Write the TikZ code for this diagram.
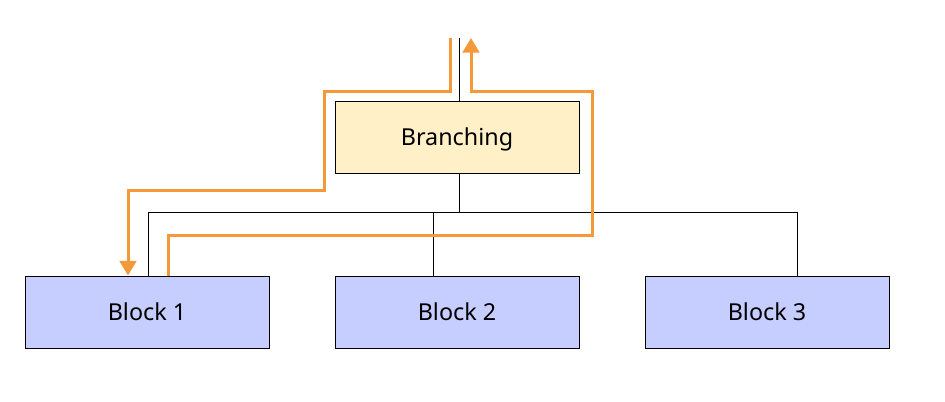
\documentclass[tikz,border=0pt]{standalone}
\usepackage{fontspec}
\setmainfont{Noto Sans}
\usetikzlibrary{arrows.meta}
\definecolor{flow}{HTML}{F4993A}
\definecolor{branchfill}{HTML}{FFF0C8}
\definecolor{blockfill}{HTML}{C5CEFF}
\tikzset{
  box/.style={draw=black,line width=0.75pt,inner sep=0pt,minimum width=183pt,minimum height=54pt,
    text height=12.5pt,text depth=0pt,font=\fontsize{17.5}{21}\selectfont},
  branchbox/.style={box,fill=branchfill},
  blockbox/.style={box,fill=blockfill},
  wire/.style={draw=black,line width=0.75pt},
  route/.style={draw=flow,line width=2.25pt,-{Triangle[length=11pt,width=12.5pt]}}
}
\begin{document}
\begin{tikzpicture}[x=0.75pt,y=-0.75pt]
            \useasboundingbox (0,0) rectangle (945,401);
            % nodes
            \node[branchbox] (branch) at (457,137) {Branching};
            \node[blockbox] (b1) at (147,312) {Block 1};
            \node[blockbox] (b2) at (457,312) {Block 2};
            \node[blockbox] (b3) at (767,312) {Block 3};
            \coordinate (in) at (459,38);
            \coordinate (down) at (450,38);
            \coordinate (up) at (471,38);
            % tree wires
            \draw[wire] (in) -- (in |- branch.north);
            \draw[wire] (in |- branch.south) -- (459,212);
            \draw[wire] (b1.north -| 148,0) |- (797,212) -- (b3.north -| 797,0);
            \draw[wire] (433,212) -- (b2.north -| 433,0);
            % orange routes
            \draw[route] (down) |- (324,91) |- (128,190) -- (b1.north -| 128,0);
            \draw[route] (b1.north -| 168,0) |- (592,235) |- (471,91) -- (up);
         \end{tikzpicture}
\end{document}
